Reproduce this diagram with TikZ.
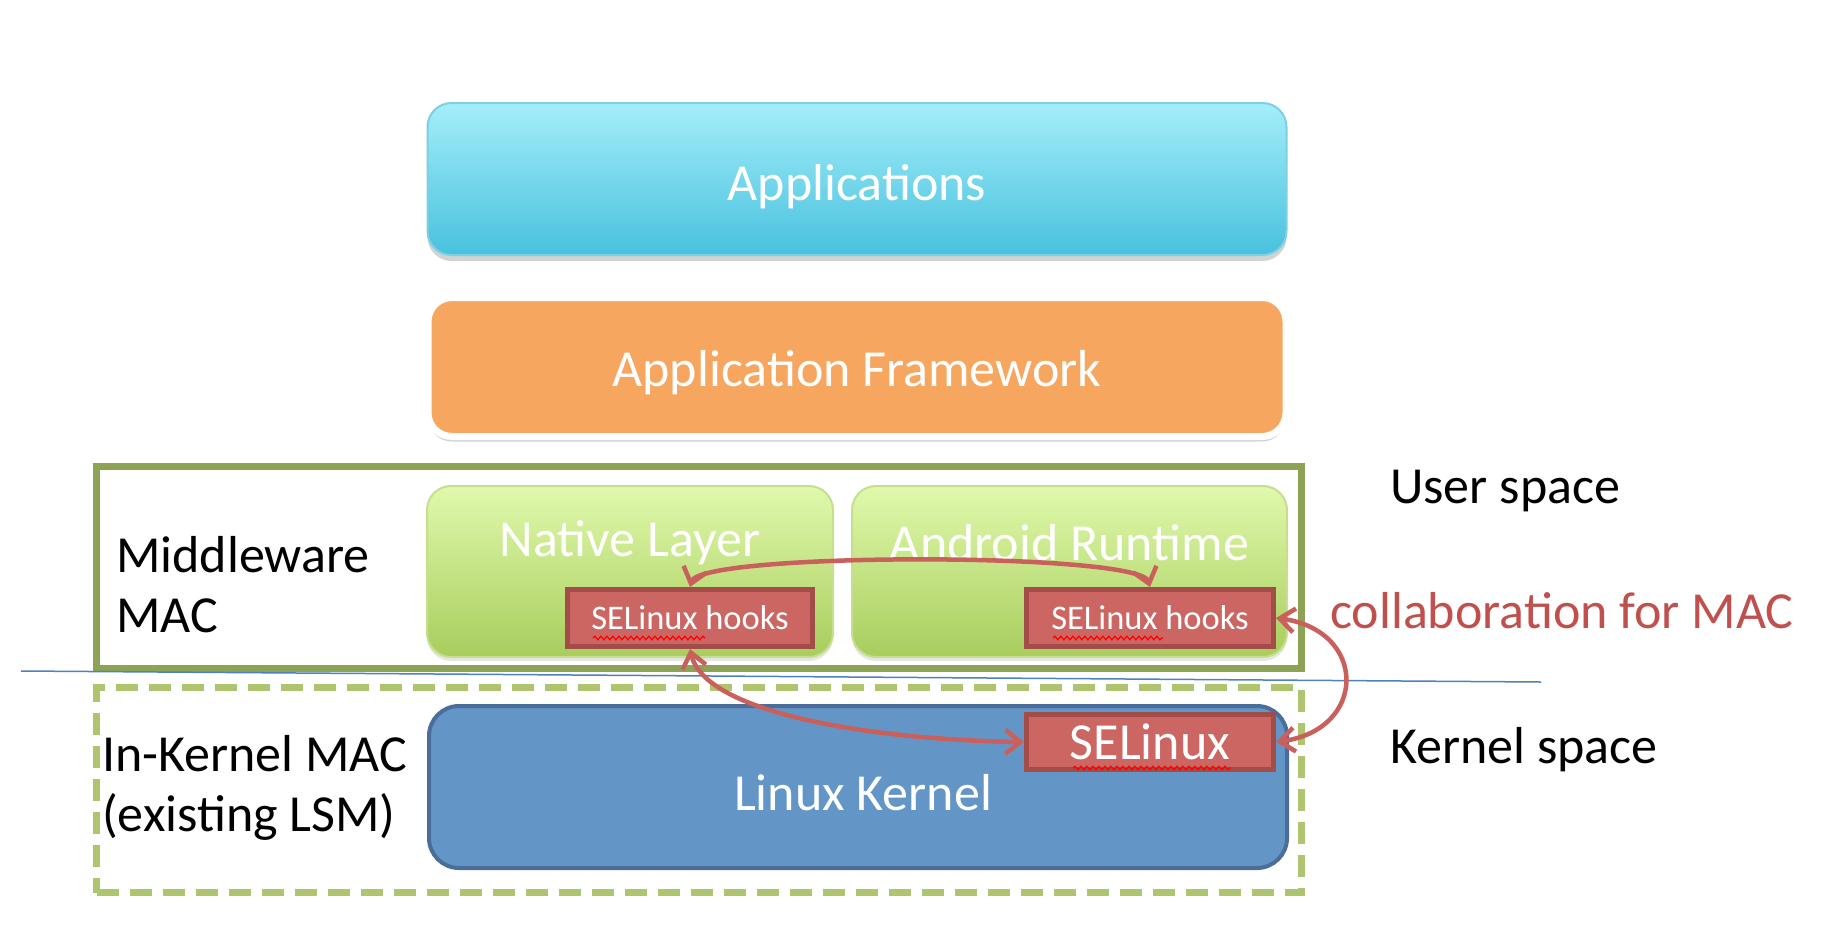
\documentclass[tikz,border=0pt]{standalone}
\usepackage{fontspec}
\setmainfont{Carlito}
\usetikzlibrary{arrows.meta,shadows,decorations.pathmorphing,positioning}

\definecolor{appTop}{HTML}{A4EEFA}
\definecolor{appBot}{HTML}{48C1DE}
\definecolor{appLine}{HTML}{7DCFE4}
\definecolor{fwOrange}{HTML}{F7A660}
\definecolor{nlTop}{HTML}{E0F9AC}
\definecolor{nlBot}{HTML}{A8CD5D}
\definecolor{nlLine}{HTML}{C5DF8E}
\definecolor{mwGreen}{HTML}{8CA355}
\definecolor{dashGreen}{HTML}{AEC46F}
\definecolor{kernelBlue}{HTML}{6396C6}
\definecolor{kernelLine}{HTML}{4A6E99}
\definecolor{seRed}{HTML}{CB6662}
\definecolor{seLine}{HTML}{A24D4A}
\definecolor{seArrow}{HTML}{C9605C}
\definecolor{seText}{HTML}{C0504D}
\definecolor{splitBlue}{HTML}{4F81BD}

\tikzset{
  big/.style={font=\fontsize{52}{60}\selectfont},
  layer/.style={rounded corners=24pt, inner sep=0pt},
  layertext/.style={big, text=white, inner sep=0pt},
  greenlayer/.style={layer, draw=nlLine, line width=2pt, top color=nlTop, bottom color=nlBot,
    drop shadow={shadow xshift=0pt, shadow yshift=-4pt, opacity=.2}},
  hookbox/.style={draw=seLine, line width=5pt, fill=seRed, text=white, inner sep=0pt},
  collab/.style={seArrow, line width=4.5pt,
    {Straight Barb[length=15pt,width=24pt]}-{Straight Barb[length=15pt,width=24pt]}},
  squiggle/.style={red, line width=1.2pt, decorate,
    decoration={snake, segment length=6pt, amplitude=1.8pt}},
  side/.style={big, align=left, inner sep=0pt, anchor=west},
}

\begin{document}
\begin{tikzpicture}[x=1pt, y=-1pt]
    \useasboundingbox (0,0) rectangle (1824,930);

    % Upper layers
    \node[layer, draw=appLine, line width=2pt, top color=appTop, bottom color=appBot,
          minimum width=859pt, minimum height=152pt,
          drop shadow={shadow xshift=0pt, shadow yshift=-6pt, opacity=.35}]
          (apps) at (857,179) {};
    \node[layertext] (appstxt) at (857,187) {Applications};
    \node[layer, draw=white, line width=7pt, fill=fwOrange,
          minimum width=858pt, minimum height=139pt,
          drop shadow={shadow xshift=0pt, shadow yshift=-5pt, opacity=.35}]
          (framework) at (857,367) {};
    \node[layertext] (frameworktxt) at (857,373) {Application Framework};

    % Middleware MAC
    \node[draw=mwGreen, line width=7pt, minimum width=1205pt, minimum height=202pt, inner sep=0pt]
          (middleware) at (699,567.5) {};
    \node[greenlayer, minimum width=406pt, minimum height=171pt] (native) at (630,571.5) {};
    \node[greenlayer, minimum width=435pt, minimum height=171pt] (runtime) at (1069.5,571.5) {};
    \node[layertext] (nativetxt) at (630,543) {Native Layer};
    \node[layertext] (runtimetxt) at (1069.5,543) {Android Runtime};
    \node[hookbox, font=\fontsize{34.5}{40}\selectfont, minimum width=245pt, minimum height=57pt]
          (hooksA) at (690,618) {SELinux hooks};
    \node[hookbox, font=\fontsize{34.5}{40}\selectfont, minimum width=247pt, minimum height=57pt]
          (hooksB) at (1150,618) {SELinux hooks};

    % User / kernel split
    \coordinate (splitL) at (21,671);
    \coordinate (splitR) at (1541,682);
    \draw[splitBlue, line width=1.5pt] (splitL) -- (splitR);

    % In-Kernel MAC
    \node[draw=dashGreen, line width=7pt, dash pattern=on 22pt off 11pt,
          minimum width=1205pt, minimum height=205pt, inner sep=0pt]
          (inkernel) at (699,790) {};
    \node[layer, draw=kernelLine, line width=4pt, fill=kernelBlue, rounded corners=30pt,
          minimum width=858pt, minimum height=162pt]
          (kernel) at (858,787) {};
    \node[layertext] (kerneltxt) at (863,793) {Linux Kernel};
    \node[hookbox, big, minimum width=247pt, minimum height=55pt] (selinux) at (1150,742) {SELinux};

    % spell-check marks
    \draw[squiggle] (593,638) -- (705,638);
    \draw[squiggle] (1053,638) -- (1163,638);
    \draw[squiggle] (1073,768) -- (1231,768);

    % Collaboration arrows
    \draw[collab] (hooksA.north) .. controls (700,552) and (1140,552) .. (hooksB.north);
    \draw[collab] (hooksA.south) .. controls (705,715) and (880,740) .. (selinux.west);
    \draw[collab] (hooksB.east) .. controls (1368,630) and (1368,730) .. (selinux.east);

    % Side labels
    \node[side] (mwlabel) at (116,585) {Middleware\\MAC};
    \node[side] (iklabel) at (102,788) {In-Kernel MAC\\(existing LSM)};
    \node[side] (userlabel) at (1390,491) {User space};
    \node[side] (kernellabel) at (1390,750) {Kernel space};
    \node[side, text=seText] (collablabel) at (1330,611) {collaboration for MAC};
\end{tikzpicture}
\end{document}
